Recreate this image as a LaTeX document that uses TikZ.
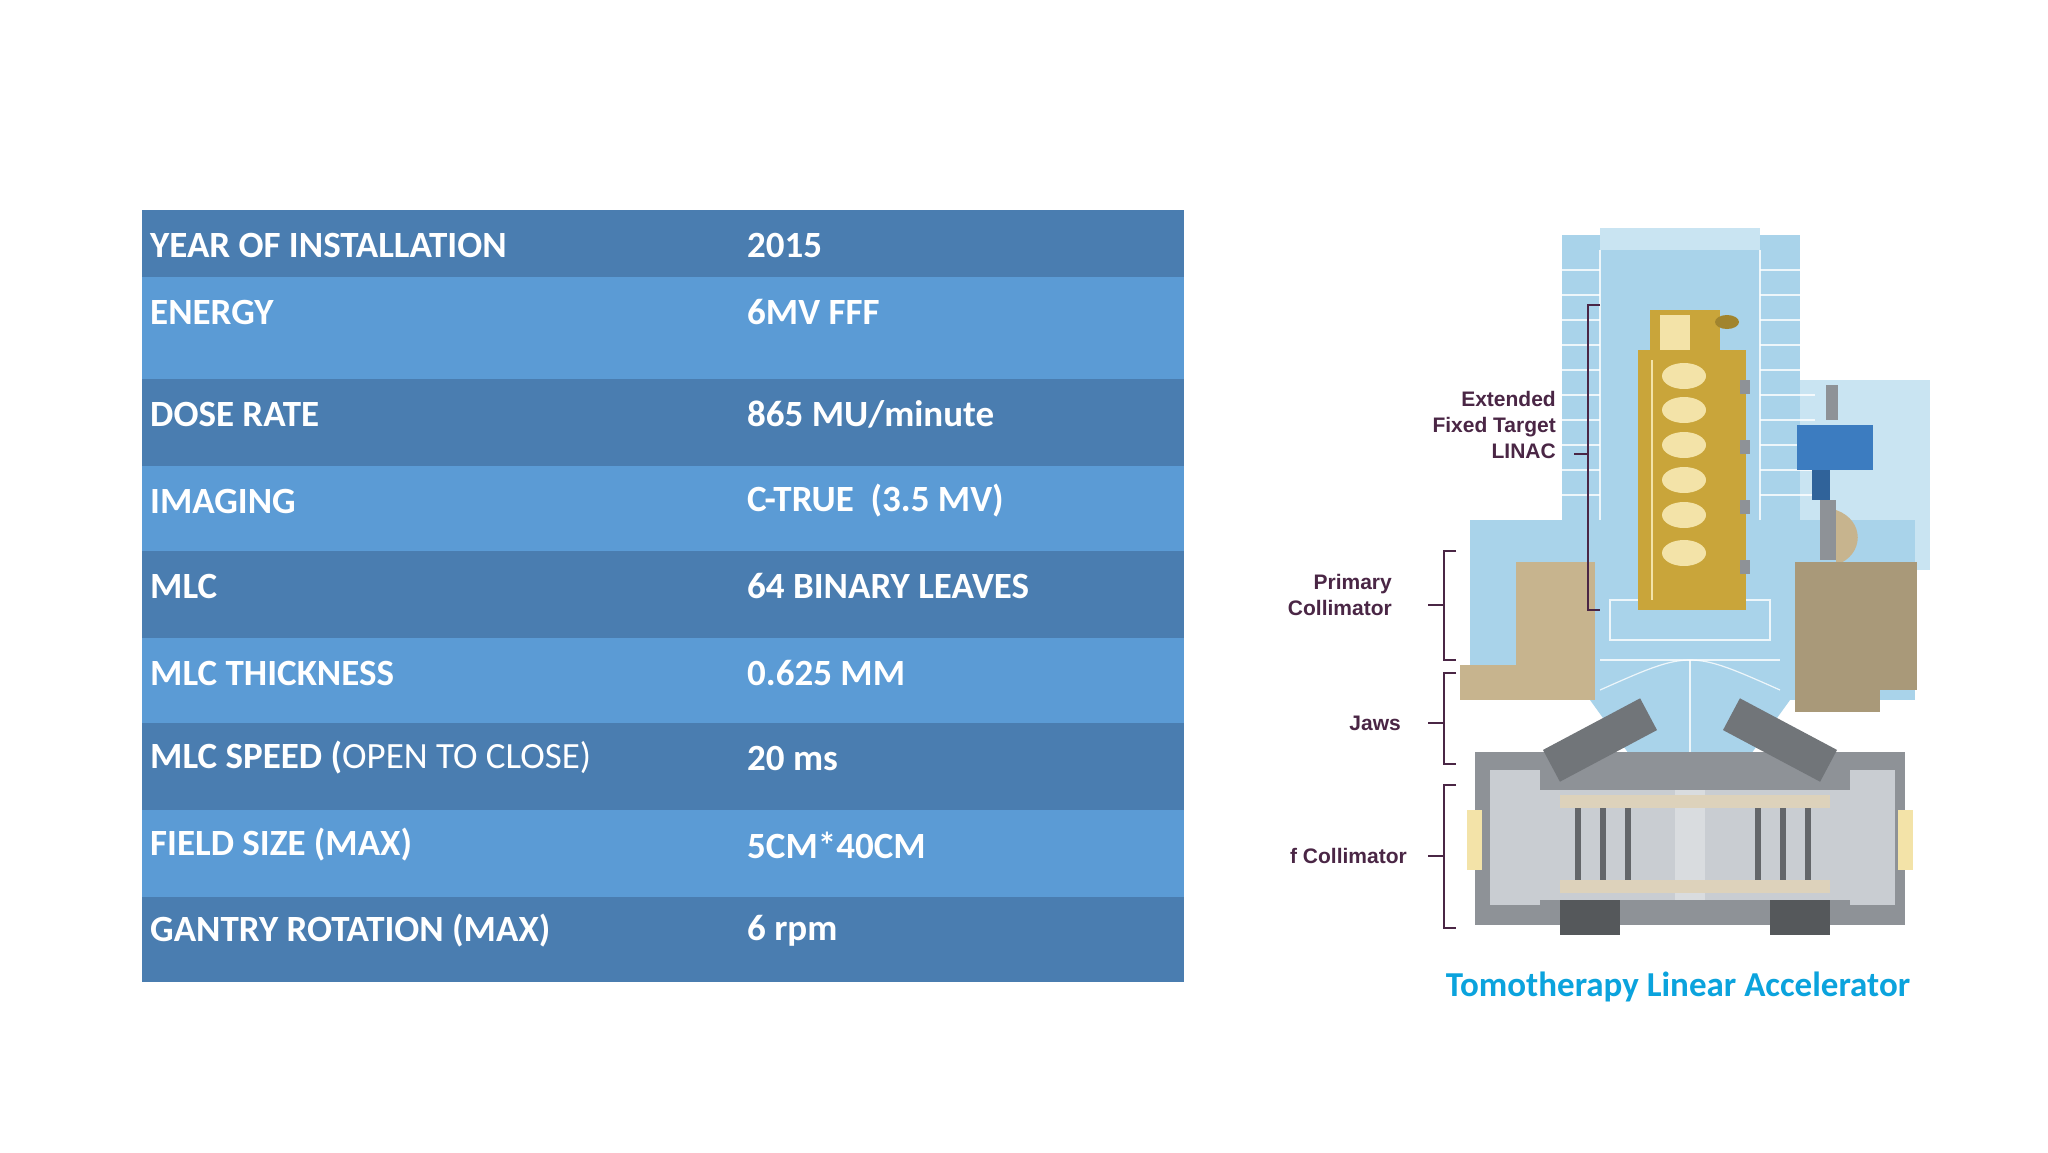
\documentclass[tikz,border=0pt]{standalone}
\usepackage{fontspec}
\setmainfont{Carlito}
\newfontfamily\arialf{Liberation Sans}
\definecolor{rowdark}{HTML}{4A7DB0}
\definecolor{rowlight}{HTML}{5B9BD5}
\definecolor{capblue}{HTML}{0BA3DD}
\definecolor{lblc}{HTML}{4A2645}
\definecolor{bodyb}{HTML}{A9D3EA}
\definecolor{bodyl}{HTML}{C9E4F2}
\definecolor{goldc}{HTML}{C9A53A}
\definecolor{goldl}{HTML}{F3E3A8}
\definecolor{tanc}{HTML}{C7B48E}
\definecolor{greyc}{HTML}{8E9297}
\definecolor{greyl}{HTML}{C9CDD2}
\definecolor{valveb}{HTML}{3C7CC0}
\tikzset{
 cell/.style={font=\bfseries\fontsize{37}{40}\selectfont, text=white, anchor=west, inner sep=0pt},
 lbl/.style={font=\arialf\bfseries\fontsize{21}{26}\selectfont, text=lblc, align=right, anchor=east, inner sep=0pt},
 brk/.style={draw=lblc, line width=2.2pt},
 wl/.style={draw=white, line width=1.2pt, opacity=0.8}
}
\begin{document}
\begin{tikzpicture}[x=1pt,y=-1pt]
\useasboundingbox[fill=white] (0,0) rectangle (2048,1152);
% table rows
\foreach \t/\b/\c in {210/277/rowdark,277/379/rowlight,379/466/rowdark,466/551/rowlight,551/638/rowdark,638/723/rowlight,723/810/rowdark,810/897/rowlight,897/982/rowdark}
  \fill[\c] (142,\t) rectangle (1184,\b);
\node[cell] (r1a) at (150,245) {YEAR OF INSTALLATION};
\node[cell] (r1b) at (747,245) {2015};
\node[cell] (r2a) at (150,312) {ENERGY};
\node[cell] (r2b) at (747,312) {6MV FFF};
\node[cell] (r3a) at (150,414) {DOSE RATE};
\node[cell] (r3b) at (747,414) {865 MU/minute};
\node[cell] (r4a) at (150,501) {IMAGING};
\node[cell] (r4b) at (747,501) {C-TRUE\ \ (3.5 MV)};
\node[cell] (r5a) at (150,586) {MLC};
\node[cell] (r5b) at (747,586) {64 BINARY LEAVES};
\node[cell] (r6a) at (150,673) {MLC THICKNESS};
\node[cell] (r6b) at (747,673) {0.625 MM};
\node[cell] (r7a) at (150,758) {MLC SPEED (\mdseries OPEN TO CLOSE)};
\node[cell] (r7b) at (747,758) {20 ms};
\node[cell] (r8a) at (150,845) {FIELD SIZE (MAX)};
\node[cell] (r8b) at (747,845) {5CM*40CM};
\node[cell] (r9a) at (150,931) {GANTRY ROTATION (MAX)};
\node[cell] (r9b) at (747,931) {6 rpm};
% ---- illustration ----
% right blue box
\fill[bodyl] (1790,380) rectangle (1930,570);
% lower wide blue body
\fill[bodyb] (1470,520) rectangle (1915,700);
% upper tower
\fill[bodyb] (1562,235) rectangle (1800,540);
\fill[bodyl] (1600,228) rectangle (1760,250);
\foreach \y in {270,295,320,345,370,395,420,445,470,495}{
  \draw[wl] (1545,\y) -- (1600,\y); \draw[wl] (1760,\y) -- (1815,\y);}
\draw[wl] (1600,250) -- (1600,520); \draw[wl] (1760,250) -- (1760,520);
% cone
\fill[bodyb] (1590,650) -- (1790,650) -- (1790,700) -- (1725,790) -- (1655,790) -- (1590,700) -- cycle;
\draw[wl] (1600,660) -- (1780,660); \draw[wl] (1690,660) -- (1690,790);
\draw[wl] (1600,690) .. controls (1690,650) .. (1780,690);
\draw[wl] (1610,600) rectangle (1770,640);
% gold linac
\fill[goldc] (1638,350) rectangle (1746,610);
\fill[goldc] (1650,310) rectangle (1720,355);
\fill[goldl] (1660,315) rectangle (1690,350);
\fill[goldc!80!black] (1727,322) ellipse (12 and 7);
\draw[goldl, line width=2pt] (1652,360) -- (1652,600);
\foreach \y in {376,410,445,480,515,553}
  \fill[goldl] (1684,\y) ellipse (22 and 13);
\foreach \y in {380,440,500,560}
  \fill[greyc] (1740,\y) rectangle (1750,\y+14);
% blue valve
\fill[greyc] (1826,385) rectangle (1838,420);
\fill[valveb] (1797,425) rectangle (1873,470);
\fill[valveb!80!black] (1812,470) rectangle (1830,500);
\fill[greyc] (1820,500) rectangle (1836,560);
\fill[tanc] (1836,510) .. controls (1865,520) and (1865,555) .. (1836,565) -- cycle;
% tan collimator blocks
\fill[tanc] (1516,562) rectangle (1595,700);
\fill[tanc] (1460,665) rectangle (1595,700);
\fill[tanc!85!black] (1795,562) rectangle (1917,690);
\fill[tanc!85!black] (1795,690) rectangle (1880,712);
% bottom MLC
\fill[greyc] (1475,752) rectangle (1905,925);
\fill[greyl] (1540,790) rectangle (1850,900);
\fill[greyl!70!white] (1675,790) rectangle (1705,900);
\foreach \x in {1575,1600,1625,1755,1780,1805}
  \fill[greyc!70!black] (\x,808) rectangle (\x+6,880);
\fill[tanc!60!white] (1560,795) rectangle (1830,808);
\fill[tanc!60!white] (1560,880) rectangle (1830,893);
\fill[greyl] (1490,770) rectangle (1540,905);
\fill[greyl] (1850,770) rectangle (1895,905);
\fill[goldl] (1467,810) rectangle (1482,870);
\fill[goldl] (1898,810) rectangle (1913,870);
\fill[greyc!60!black] (1560,900) rectangle (1620,935);
\fill[greyc!60!black] (1770,900) rectangle (1830,935);
% jaws cylinders
\fill[greyc!80!black, rotate around={28:(1600,740)}] (1545,722) rectangle (1655,758);
\fill[greyc!80!black, rotate around={-28:(1780,740)}] (1725,722) rectangle (1835,758);
% labels
\begin{scope}
\clip (1287,0) rectangle (2048,1152);
\node[lbl] (l1) at (1556,425) {Extended\\Fixed Target\\LINAC};
\node[lbl] (l2) at (1392,595) {Primary\\Collimator};
\node[lbl] (l3) at (1401,723) {Jaws};
\node[lbl] (l4) at (1407,856) {f Collimator};
\end{scope}
\draw[brk] (1600,305) -- (1588,305) -- (1588,610) -- (1600,610);
\draw[brk] (1588,454) -- (1574,454);
\draw[brk] (1456,551) -- (1444,551) -- (1444,660) -- (1456,660);
\draw[brk] (1444,605) -- (1428,605);
\draw[brk] (1456,673) -- (1444,673) -- (1444,764) -- (1456,764);
\draw[brk] (1444,723) -- (1428,723);
\draw[brk] (1456,785) -- (1444,785) -- (1444,928) -- (1456,928);
\draw[brk] (1444,856) -- (1428,856);
\node[font=\bfseries\fontsize{35}{40}\selectfont, text=capblue] (cap) at (1678,987) {Tomotherapy Linear Accelerator};
\end{tikzpicture}
\end{document}
